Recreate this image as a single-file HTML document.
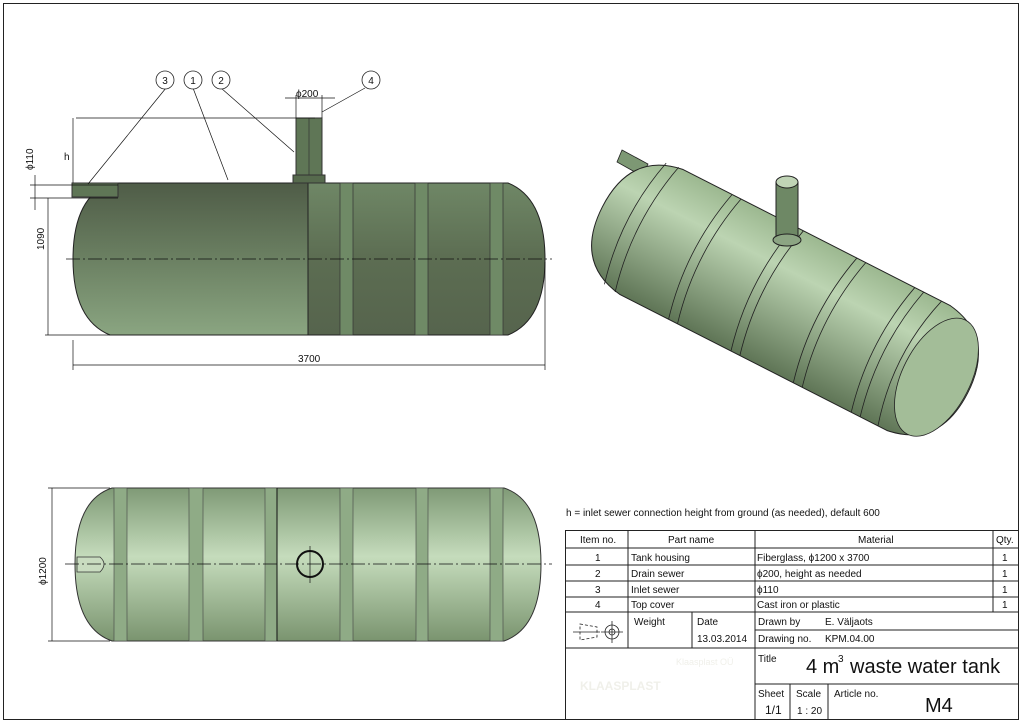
<!DOCTYPE html>
<html><head><meta charset="utf-8"><style>
body{margin:0;width:1024px;height:725px;background:#fff;overflow:hidden;font-family:"Liberation Sans",sans-serif}
svg{position:absolute;left:0;top:0}
text{font-family:"Liberation Sans",sans-serif;fill:#111}
</style></head><body>
<svg width="1024" height="725" viewBox="0 0 1024 725">
<defs>
<linearGradient id="tv" x1="0" y1="0" x2="0" y2="1">
<stop offset="0" stop-color="#7f9a76"/><stop offset="0.45" stop-color="#c5dcbc"/><stop offset="1" stop-color="#7a946f"/></linearGradient>
<linearGradient id="fl" x1="0" y1="0" x2="0" y2="1">
<stop offset="0" stop-color="#4f5c47"/><stop offset="0.5" stop-color="#6b8062"/><stop offset="1" stop-color="#8aa581"/></linearGradient>
<linearGradient id="fr" x1="0" y1="0" x2="0" y2="1">
<stop offset="0" stop-color="#6f8766"/><stop offset="0.5" stop-color="#5c6d52"/><stop offset="1" stop-color="#56644d"/></linearGradient>
<linearGradient id="iso" x1="0" y1="0" x2="0" y2="1">
<stop offset="0" stop-color="#9cb890"/><stop offset="0.3" stop-color="#bcd4b2"/><stop offset="1" stop-color="#5f7556"/></linearGradient>
</defs>
<rect x="3.5" y="3.5" width="1015" height="716" fill="none" stroke="#222" stroke-width="1"/>

<!-- FRONT VIEW -->
<path d="M110,183 L308,183 L308,335 L110,335 Q73,320 73,259 Q73,198 110,183Z" fill="url(#fl)" stroke="#222"/>
<path d="M308,183 L508,183 Q545,198 545,259 Q545,320 508,335 L308,335Z" fill="url(#fr)" stroke="#222"/>
<g fill="#6f8a66" stroke="#333" stroke-width="0.7">
<rect x="340" y="183" width="13" height="152"/><rect x="415" y="183" width="13" height="152"/><rect x="490" y="183" width="13" height="152"/>
</g>
<rect x="296" y="118" width="26" height="64" fill="#5f7656" stroke="#333"/>
<line x1="309" y1="118" x2="309" y2="182" stroke="#333" stroke-width="0.7"/>
<rect x="293" y="175" width="32" height="8" fill="#566a4d" stroke="#333"/>
<rect x="72" y="183" width="46" height="14" fill="#5f7656" stroke="#333"/>
<g stroke="#111" stroke-width="0.7" fill="none">
<line x1="66" y1="259" x2="552" y2="259" stroke-dasharray="14,3,2,3"/>
<line x1="76" y1="118" x2="315" y2="118"/><line x1="73" y1="118" x2="73" y2="183"/>
<line x1="30" y1="185" x2="118" y2="185"/><line x1="30" y1="198" x2="118" y2="198"/>
<line x1="35" y1="175" x2="35" y2="210"/>
<line x1="48" y1="198" x2="48" y2="335"/><line x1="45" y1="335" x2="110" y2="335"/>
<line x1="73" y1="340" x2="73" y2="370"/><line x1="545" y1="262" x2="545" y2="370"/>
<line x1="73" y1="365" x2="545" y2="365"/>
<line x1="285" y1="98" x2="335" y2="98"/><line x1="296" y1="95" x2="296" y2="118"/><line x1="322" y1="95" x2="322" y2="118"/>
<line x1="166" y1="88" x2="88" y2="184"/><line x1="193" y1="88" x2="228" y2="180"/><line x1="221" y1="88" x2="294" y2="152"/><line x1="365" y1="88" x2="322" y2="112"/>
</g>
<g font-size="10">
<text x="296" y="97" font-size="10">ϕ200</text>
<text x="298" y="362" font-size="10">3700</text>
<text x="0" y="0" transform="translate(44,250) rotate(-90)" font-size="10">1090</text>
<text x="0" y="0" transform="translate(33,170) rotate(-90)" font-size="10">ϕ110</text>
<text x="64" y="160" font-size="10">h</text>
</g>
<g fill="#fff" stroke="#222" stroke-width="0.8">
<circle cx="165" cy="80" r="9"/><circle cx="193" cy="80" r="9"/><circle cx="221" cy="80" r="9"/><circle cx="371" cy="80" r="9"/></g>
<g font-size="10" text-anchor="middle"><text x="165" y="84">3</text><text x="193" y="84">1</text><text x="221" y="84">2</text><text x="371" y="84">4</text></g>

<!-- TOP VIEW -->
<path d="M112,488 L504,488 Q541,500 541,564 Q541,628 504,641 L112,641 Q75,628 75,564 Q75,500 112,488Z" fill="url(#tv)" stroke="#333"/>
<g fill="#8fab86" stroke="#444" stroke-width="0.6">
<rect x="114" y="488" width="13" height="153"/><rect x="189" y="488" width="14" height="153"/><rect x="265" y="488" width="12" height="153"/><rect x="340" y="488" width="13" height="153"/><rect x="416" y="488" width="12" height="153"/><rect x="490" y="488" width="13" height="153"/></g>
<line x1="277" y1="488" x2="277" y2="641" stroke="#111"/>
<path d="M77,557 L100,557 Q108,564 100,572 L77,572Z" fill="#c9dcc0" stroke="#333" stroke-width="0.8"/>
<circle cx="310" cy="564" r="13" fill="none" stroke="#111" stroke-width="2"/>
<g stroke="#111" stroke-width="0.7">
<line x1="65" y1="564" x2="552" y2="564" stroke-dasharray="14,3,2,3"/>
<line x1="310" y1="546" x2="310" y2="583"/>
<line x1="52" y1="488" x2="52" y2="641"/><line x1="48" y1="488" x2="110" y2="488"/><line x1="48" y1="641" x2="110" y2="641"/></g>
<text transform="translate(46,585) rotate(-90)" font-size="10">ϕ1200</text>

<!-- ISO VIEW -->
<path d="M622,150 L648,164 L642,176 L617,162Z" fill="#7d9874" stroke="#222" stroke-width="0.8"/>
<g transform="translate(785,300) rotate(27)">
<path d="M-150,-70 L150,-70 Q205,-62 205,0 Q205,62 150,70 L-150,70 Q-205,62 -205,0 Q-205,-62 -150,-70Z" fill="url(#iso)" stroke="#222"/>
<g fill="none" stroke="#222" stroke-width="0.8">
<path d="M-168,-68 Q-185,0 -168,68"/><path d="M-155,-70 Q-172,0 -155,70"/>
<path d="M-95,-70 Q-112,0 -95,70"/><path d="M-85,-70 Q-102,0 -85,70"/>
<path d="M-25,-70 Q-42,0 -25,70"/><path d="M-15,-70 Q-32,0 -15,70"/>
<path d="M45,-70 Q28,0 45,70"/><path d="M55,-70 Q38,0 55,70"/>
<path d="M110,-70 Q93,0 110,70"/><path d="M120,-70 Q103,0 120,70"/>
<path d="M140,-70 Q120,0 140,70"/>
</g>
<ellipse cx="170" cy="0" rx="34" ry="64" fill="#a3bd98" stroke="#222" stroke-width="0.8"/>
</g>
<rect x="776" y="182" width="22" height="58" fill="#6e8865" stroke="#222"/>
<ellipse cx="787" cy="182" rx="11" ry="6" fill="#c0d4b6" stroke="#222"/>
<ellipse cx="787" cy="240" rx="14" ry="6" fill="#8ca583" stroke="#222"/>

<!-- TABLE -->
<text x="566" y="516" font-size="10">h = inlet sewer connection height from ground (as needed), default 600</text>
<g stroke="#222" stroke-width="1" fill="none">
<rect x="565.5" y="530.5" width="453" height="189"/>
<line x1="565" y1="548" x2="1018" y2="548"/><line x1="565" y1="565" x2="1018" y2="565"/><line x1="565" y1="581" x2="1018" y2="581"/><line x1="565" y1="597" x2="1018" y2="597"/><line x1="565" y1="612" x2="1018" y2="612"/>
<line x1="628" y1="530" x2="628" y2="648"/><line x1="755" y1="530" x2="755" y2="720"/><line x1="993" y1="530" x2="993" y2="612"/>
<line x1="692" y1="612" x2="692" y2="648"/>
<line x1="755" y1="630" x2="1018" y2="630"/>
<line x1="565" y1="648" x2="1018" y2="648"/>
<line x1="755" y1="684" x2="1018" y2="684"/>
<line x1="790" y1="684" x2="790" y2="720"/><line x1="828" y1="684" x2="828" y2="720"/>
</g>
<g font-size="10">
<text x="580" y="543">Item no.</text><text x="668" y="543">Part name</text><text x="858" y="543">Material</text><text x="996" y="543">Qty.</text>
<text x="595" y="561">1</text><text x="631" y="561">Tank housing</text><text x="757" y="561">Fiberglass,  ϕ1200 x 3700</text><text x="1002" y="561">1</text>
<text x="595" y="577">2</text><text x="631" y="577">Drain sewer</text><text x="757" y="577">ϕ200, height as needed</text><text x="1002" y="577">1</text>
<text x="595" y="593">3</text><text x="631" y="593">Inlet sewer</text><text x="757" y="593">ϕ110</text><text x="1002" y="593">1</text>
<text x="595" y="608">4</text><text x="631" y="608">Top cover</text><text x="757" y="608">Cast iron or plastic</text><text x="1002" y="608">1</text>
<text x="634" y="625">Weight</text><text x="697" y="625">Date</text><text x="697" y="642">13.03.2014</text>
<text x="758" y="625">Drawn by</text><text x="825" y="625">E. Väljaots</text>
<text x="758" y="642">Drawing no.</text><text x="825" y="642">KPM.04.00</text>
<text x="758" y="662">Title</text>
<text x="758" y="697">Sheet</text><text x="765" y="714" font-size="12">1/1</text>
<text x="796" y="697">Scale</text><text x="797" y="714">1 : 20</text>
<text x="834" y="697">Article no.</text>
</g>
<text x="806" y="673" font-size="20">4 m</text><text x="838" y="662" font-size="10">3</text><text x="850" y="673" font-size="20">waste water tank</text>
<text x="925" y="712" font-size="20">M4</text>
<g stroke="#222" stroke-width="0.8" fill="none">
<path d="M580,624 L597,627 L597,637 L580,640Z" stroke-dasharray="3,2"/><line x1="573" y1="632" x2="600" y2="632"/>
<circle cx="612" cy="632" r="7"/><circle cx="612" cy="632" r="3"/><line x1="612" y1="621" x2="612" y2="643"/><line x1="601" y1="632" x2="623" y2="632"/></g>
<text x="580" y="690" font-size="12" font-weight="bold" style="fill:#f0f0ea">KLAASPLAST</text>
<text x="676" y="665" font-size="9" style="fill:#f0f0ea">Klaasplast OÜ</text>
</svg>
</body></html>
